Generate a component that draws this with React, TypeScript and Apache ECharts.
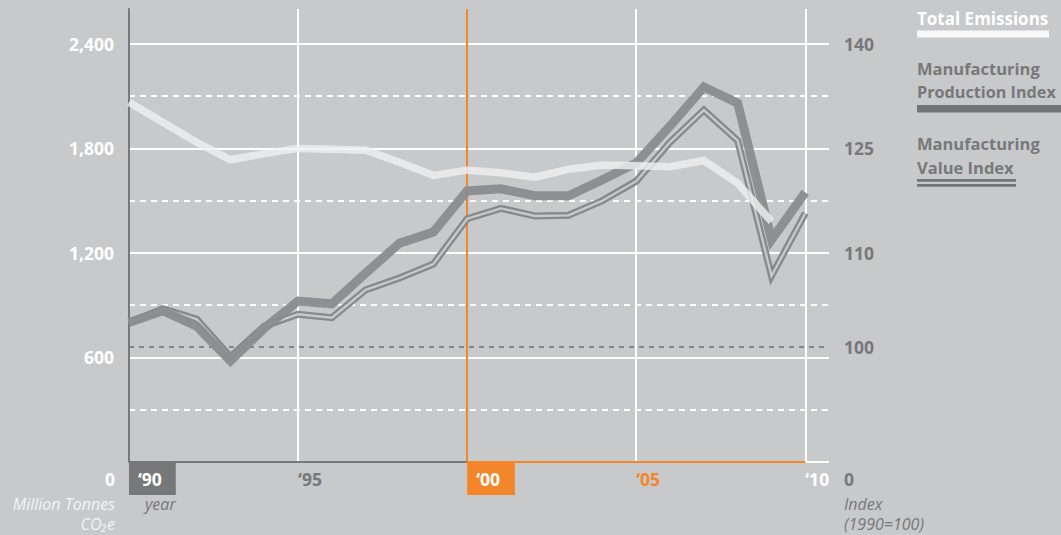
import React, { useEffect, useRef } from "react";
import * as echarts from "echarts";

// ---- data ----
const YEARS = [1990, 1991, 1992, 1993, 1994, 1995, 1996, 1997, 1998, 1999, 2000, 2001, 2002, 2003, 2004, 2005, 2006, 2007, 2008, 2009, 2010];
// Million tonnes CO2e (1990-2009)
const TOTAL_EMISSIONS = [2065, 1950, 1835, 1735, 1770, 1800, 1795, 1790, 1720, 1645, 1675, 1660, 1635, 1680, 1705, 1700, 1695, 1730, 1600, 1380];
// Index 1990 = 100
const PRODUCTION_INDEX = [100, 101.7, 99.5, 94.5, 99.2, 103.1, 102.7, 107.1, 111.4, 113.0, 118.9, 119.2, 118.2, 118.2, 120.5, 122.9, 128.2, 133.8, 131.5, 111.9, 118.7];
const VALUE_INDEX = [100, 102.0, 100.5, 95.1, 99.5, 101.2, 100.7, 104.7, 106.4, 108.4, 114.9, 116.4, 115.3, 115.4, 117.5, 120.3, 125.9, 130.5, 126.1, 106.7, 115.7];

const LEFT_MIN = 0;
const LEFT_MAX = 2600;
const LEFT_INTERVAL = 600;
const RIGHT_MIN = 80;
const RIGHT_MAX = 145;
const RIGHT_TICKS = [110, 125, 140];
const INDEX_REF_VALUE = 96.5;
const INDEX_REF_LABEL = "100";
const X_MIN = 1990;
const X_MAX = 2010.7;
const X_INTERVAL = 5;
const X_TICKS = [1990, 1995, 2000, 2005, 2010];
const X_TICK_LABELS = ["\u201890", "\u201895", "\u201800", "\u201805", "\u201810"];
const HIGHLIGHT_YEAR = 2000;
const LAST_YEAR = 2010;

const SERIES_NAMES = ["Total Emissions", "Manufacturing Production Index", "Manufacturing Value Index"];

// ---- style ----
const BG = "#c8c9cb";
const GRAY = "#77787a";
const LINE_GRAY = "#8b8c8e";
const ORANGE = "#f3862b";
const WHITE = "#ffffff";
const FONT = '"Open Sans", "DejaVu Sans", sans-serif';

export default function App() {
  const ref = useRef<HTMLDivElement>(null);

  useEffect(() => {
    document.body.style.margin = "0";
    document.body.style.background = BG;
    if (!ref.current) return;
    const chart = echarts.init(ref.current, undefined, { renderer: "svg" });

    const emissions = TOTAL_EMISSIONS.map((v, i) => [YEARS[i], v]);
    const production = PRODUCTION_INDEX.map((v, i) => [YEARS[i], v]);
    const valueIdx = VALUE_INDEX.map((v, i) => [YEARS[i], v]);

    const richStyles: any = {
      s0: { backgroundColor: GRAY, color: WHITE, padding: [0, 14, 0, 9], height: 33, lineHeight: 33, fontWeight: "bold", fontSize: 17.5, fontFamily: FONT },
      s1: { color: GRAY, height: 33, lineHeight: 33, fontWeight: "bold", fontSize: 17.5, fontFamily: FONT },
      s2: { backgroundColor: ORANGE, color: WHITE, padding: [0, 15, 0, 9], height: 33, lineHeight: 33, fontWeight: "bold", fontSize: 17.5, fontFamily: FONT },
      s3: { color: ORANGE, height: 33, lineHeight: 33, fontWeight: "bold", fontSize: 17.5, fontFamily: FONT },
      s4: { color: WHITE, height: 33, lineHeight: 33, fontWeight: "bold", fontSize: 17.5, fontFamily: FONT },
    };

    const boldText = (text: string, x: number, y: number, fill: string, align: string, size = 17) => ({
      type: "text",
      x,
      y,
      silent: true,
      style: { text, fill, font: `bold ${size}px ${FONT}`, textAlign: align, verticalAlign: "middle" },
    });
    const italicText = (text: string, x: number, y: number, fill: string, align: string) => ({
      type: "text",
      x,
      y,
      silent: true,
      style: { text, fill, font: `italic 16px ${FONT}`, textAlign: align, verticalAlign: "middle" },
    });

    const option: any = {
      animation: false,
      backgroundColor: BG,
      grid: { left: 129, right: 232, top: 9, bottom: 73, containLabel: false },
      xAxis: {
        type: "value",
        min: X_MIN,
        max: X_MAX,
        interval: X_INTERVAL,
        axisLine: { show: false },
        axisTick: { show: false },
        splitLine: { show: true, showMinLine: false, showMaxLine: false, lineStyle: { color: WHITE, width: 2 } },
        axisLabel: {
          customValues: X_TICKS,
          align: "left",
          margin: 0,
          formatter: (v: number) => {
            const i = X_TICKS.indexOf(Math.round(v));
            return i >= 0 ? `{s${i}|${X_TICK_LABELS[i]}}` : "";
          },
          rich: richStyles,
        },
      },
      yAxis: [
        {
          type: "value",
          min: LEFT_MIN,
          max: LEFT_MAX,
          interval: LEFT_INTERVAL,
          axisLine: { show: true, lineStyle: { color: GRAY, width: 2 } },
          axisTick: { show: false },
          axisLabel: {
            showMinLabel: false,
            showMaxLabel: false,
            color: WHITE,
            fontWeight: "bold",
            fontSize: 17.5,
            fontFamily: FONT,
            margin: 15,
            padding: [5, 0, 0, 0],
          },
          splitLine: { show: true, showMaxLine: false, lineStyle: { color: WHITE, width: 2 } },
          minorTick: { show: false, splitNumber: 2 },
          minorSplitLine: { show: true, lineStyle: { color: WHITE, width: 2, type: [6, 5] } },
        },
        {
          type: "value",
          min: RIGHT_MIN,
          max: RIGHT_MAX,
          position: "right",
          axisLine: { show: false },
          axisTick: { show: false },
          splitLine: { show: false },
          axisLabel: {
            customValues: RIGHT_TICKS,
            color: GRAY,
            fontWeight: "bold",
            fontSize: 17.5,
            fontFamily: FONT,
            margin: 15,
            padding: [5, 0, 0, 0],
          },
        },
      ],
      graphic: [
        // legend
        boldText(SERIES_NAMES[0], 917, 18, WHITE, "left"),
        { type: "rect", silent: true, shape: { x: 917, y: 30.5, width: 132, height: 7 }, style: { fill: "#f7f7f7" } },
        boldText("Manufacturing", 917, 68.5, GRAY, "left", 16.5),
        boldText("Production Index", 917, 91.5, GRAY, "left", 16.2),
        { type: "rect", silent: true, shape: { x: 917, y: 105, width: 144, height: 7.5 }, style: { fill: "#737476" } },
        boldText("Manufacturing", 917, 143.5, GRAY, "left", 16.5),
        boldText("Value Index", 917, 167, GRAY, "left", 16.5),
        { type: "rect", silent: true, shape: { x: 917, y: 179, width: 99, height: 2.7 }, style: { fill: "#737476" } },
        { type: "rect", silent: true, shape: { x: 917, y: 184, width: 99, height: 2.7 }, style: { fill: "#737476" } },
        // bottom captions
        boldText("0", 115, 479, WHITE, "right", 17.5),
        italicText("Million Tonnes", 115, 504, "#f4f4f4", "right"),
        italicText("CO\u2082e", 115, 524, "#f4f4f4", "right"),
        italicText("year", 145, 504, GRAY, "left"),
        boldText("0", 844, 479, GRAY, "left", 17.5),
        italicText("Index", 844, 504, GRAY, "left"),
        italicText("(1990=100)", 844, 524, GRAY, "left"),
      ],
      series: [
        {
          name: SERIES_NAMES[2],
          type: "line",
          yAxisIndex: 1,
          data: valueIdx,
          symbol: "none",
          z: 10,
          lineStyle: { color: "#88898b", width: 7, join: "miter", cap: "butt" },
          markLine: {
            silent: true,
            symbol: "none",
            lineStyle: { color: "#6e6f71", width: 1.5, type: [5, 5] },
            label: {
              show: true,
              position: "end",
              formatter: INDEX_REF_LABEL,
              color: GRAY,
              fontWeight: "bold",
              fontSize: 17.5,
              fontFamily: FONT,
              distance: 15,
              padding: [5, 0, 0, 0],
            },
            data: [{ yAxis: INDEX_REF_VALUE }],
          },
        },
        {
          name: SERIES_NAMES[2] + " inner",
          type: "line",
          yAxisIndex: 1,
          data: valueIdx,
          symbol: "none",
          z: 11,
          lineStyle: { color: BG, width: 2.3, join: "miter", cap: "butt" },
        },
        {
          name: SERIES_NAMES[1],
          type: "line",
          yAxisIndex: 1,
          data: production,
          symbol: "none",
          z: 12,
          lineStyle: { color: LINE_GRAY, width: 9, opacity: 0.95, join: "miter", cap: "butt" },
        },
        {
          name: SERIES_NAMES[0],
          type: "line",
          yAxisIndex: 0,
          data: emissions,
          symbol: "none",
          z: 13,
          lineStyle: { color: "#f0f0f0", width: 7.5, opacity: 0.8, join: "miter", cap: "butt" },
          markLine: {
            silent: true,
            symbol: "none",
            label: { show: false },
            data: [
              { xAxis: HIGHLIGHT_YEAR, lineStyle: { color: ORANGE, width: 2, type: "solid" } },
              [
                { coord: [X_MIN, LEFT_MIN], lineStyle: { color: GRAY, width: 2, type: "solid" } },
                { coord: [HIGHLIGHT_YEAR, LEFT_MIN] },
              ],
              [
                { coord: [HIGHLIGHT_YEAR, LEFT_MIN], lineStyle: { color: ORANGE, width: 2, type: "solid" } },
                { coord: [LAST_YEAR, LEFT_MIN] },
              ],
            ],
          },
        },
      ],
    };

    chart.setOption(option);
    return () => chart.dispose();
  }, []);

  return <div ref={ref} style={{ width: 1061, height: 535, background: BG }} />;
}
